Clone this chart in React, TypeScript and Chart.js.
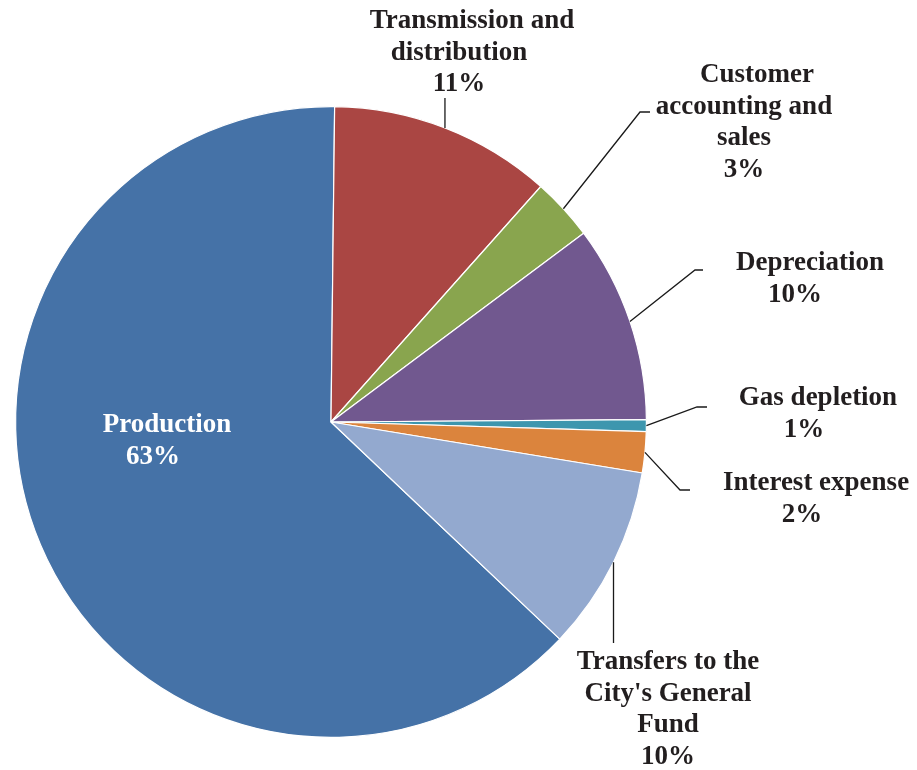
import React, { useEffect, useRef } from "react";
import { Chart, registerables } from "chart.js";

Chart.register(...registerables);

// ---- data ----
const categories = [
  "Production",
  "Transmission and distribution",
  "Customer accounting and sales",
  "Depreciation",
  "Gas depletion",
  "Interest expense",
  "Transfers to the City's General Fund",
];
const shares = [63.1, 11.4, 3.2, 10.1, 0.6, 2.1, 9.5];
const labelLines = [
  ["Production"],
  ["Transmission and", "distribution"],
  ["Customer", "accounting and", "sales"],
  ["Depreciation"],
  ["Gas depletion"],
  ["Interest expense"],
  ["Transfers to the", "City's General", "Fund"],
];
const colors = ["#4572A7", "#AA4643", "#89A54E", "#71588F", "#3D96AE", "#DB843D", "#93A9CF"];

// ---- label layout (offsets from pie centre, px) ----
type Layout = {
  x: number; // centre x of text block (relative)
  y: number; // first baseline (relative)
  firstDx: number;
  color: string;
  vertical?: number; // vertical connector ending at this relative y
  path: Array<[number, number]>; // connector points after the slice edge
};
const layouts: Layout[] = [
  { x: -178, y: 10, firstDx: 14, color: "#ffffff", path: [] },
  { x: 128, y: -394, firstDx: 13, color: "#221e1f", vertical: -324, path: [] },
  { x: 413, y: -340, firstDx: 13, color: "#221e1f", path: [[309, -310], [319, -310]] },
  { x: 464, y: -152, firstDx: 15, color: "#221e1f", path: [[364, -152], [372, -152]] },
  { x: 473, y: -17, firstDx: 14, color: "#221e1f", path: [[366, -15], [376, -15]] },
  { x: 471, y: 68, firstDx: 14, color: "#221e1f", path: [[349, 68], [359, 68]] },
  { x: 337, y: 247, firstDx: 0, color: "#221e1f", vertical: 221, path: [] },
];

const FONT = "bold 27px 'Liberation Serif', 'Times New Roman', serif";
const LINE_H = 31.5;

const labelPlugin = {
  id: "pieLabels",
  afterDatasetsDraw(chart: any) {
    const ctx = chart.ctx as CanvasRenderingContext2D;
    const meta = chart.getDatasetMeta(0);
    const data = chart.data.datasets[0].data as number[];
    const total = data.reduce((a, b) => a + b, 0);
    ctx.save();
    meta.data.forEach((arc: any, i: number) => {
      const { x, y, startAngle, endAngle, outerRadius } = arc.getProps(
        ["x", "y", "startAngle", "endAngle", "outerRadius"],
        true
      );
      const lay = layouts[i];
      const mid = (startAngle + endAngle) / 2;
      const sx = x + Math.cos(mid) * outerRadius;
      const sy = y + Math.sin(mid) * outerRadius;
      if (lay.path.length || lay.vertical !== undefined) {
        ctx.beginPath();
        ctx.strokeStyle = "#1a1a1a";
        ctx.lineWidth = 1.3;
        ctx.moveTo(sx, sy);
        if (lay.vertical !== undefined) ctx.lineTo(sx, y + lay.vertical);
        lay.path.forEach(([px, py]) => ctx.lineTo(x + px, y + py));
        ctx.stroke();
      }
      const lines = [...labelLines[i], Math.round((data[i] / total) * 100) + "%"];
      ctx.font = FONT;
      ctx.fillStyle = lay.color;
      ctx.textAlign = "center";
      ctx.textBaseline = "alphabetic";
      lines.forEach((t, k) => {
        const dx = k === 0 ? lay.firstDx : 0;
        ctx.fillText(t, x + lay.x + dx, y + lay.y + k * LINE_H);
      });
    });
    ctx.restore();
  },
};

export default function App() {
  const ref = useRef<HTMLCanvasElement | null>(null);
  useEffect(() => {
    if (!ref.current) return;
    const chart = new Chart(ref.current, {
      type: "pie",
      data: {
        labels: categories,
        datasets: [
          {
            data: shares,
            backgroundColor: colors,
            borderColor: "#ffffff",
            borderWidth: 1.2,
          },
        ],
      },
      options: {
        responsive: false,
        animation: false,
        devicePixelRatio: 1,
        rotation: 133.5,
        layout: { padding: { left: 15, right: 270, top: 106, bottom: 32 } },
        plugins: {
          legend: { display: false },
          tooltip: { enabled: false },
          title: { display: false },
        },
      },
      plugins: [labelPlugin],
    });
    return () => chart.destroy();
  }, []);
  return (
    <div style={{ position: "fixed", left: 0, top: 0, width: 917, height: 770, background: "#fff" }}>
      <canvas ref={ref} width={917} height={770} style={{ width: 917, height: 770, display: "block" }} />
    </div>
  );
}
